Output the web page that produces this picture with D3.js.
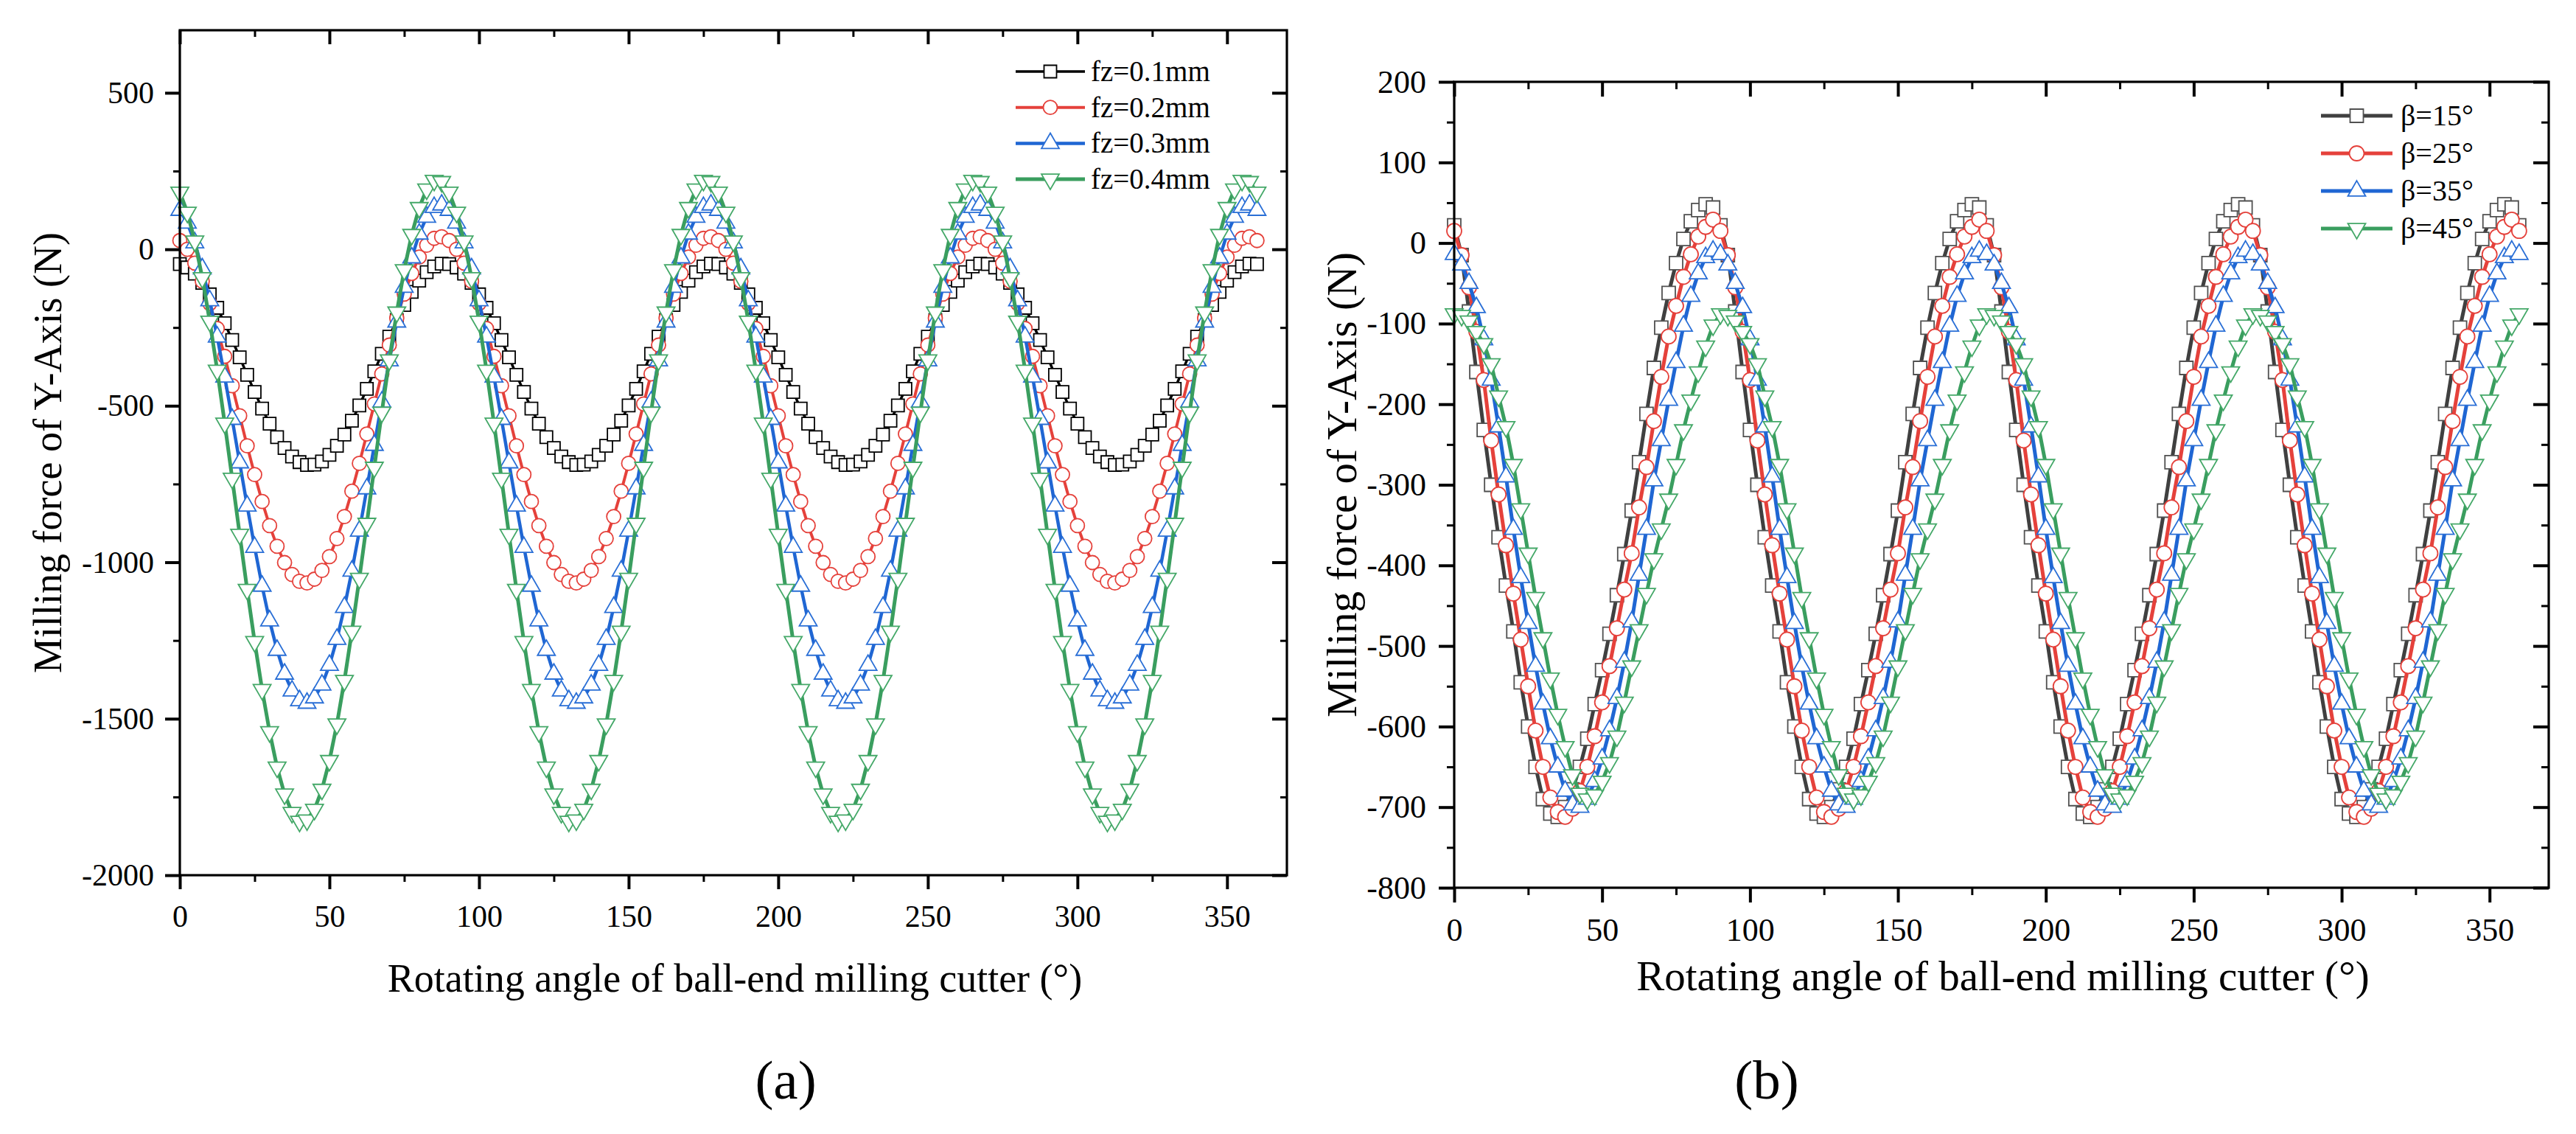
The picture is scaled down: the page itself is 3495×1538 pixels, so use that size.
<!DOCTYPE html>
<html>
<head>
<meta charset="utf-8">
<script src="https://cdn.jsdelivr.net/npm/d3@7"></script>
<style>
body { margin: 0; background: #fff; }
text { font-family: "Liberation Serif", "Times New Roman", serif; fill: #000; }
</style>
</head>
<body>
<div id="chart"></div>
<script>
const width = 3495;
const height = 1538;

// rotating angle of the cutter (deg), one sample every 2.5 deg
const angles = [
    0,2.5,5,7.5,10,12.5,15,17.5,20,22.5,25,27.5,30,32.5,35,37.5,40,42.5,45,47.5,50,52.5,55,57.5,60,62.5,65,67.5,70,72.5,75,77.5,80,82.5,85,87.5,
    90,92.5,95,97.5,100,102.5,105,107.5,110,112.5,115,117.5,120,122.5,125,127.5,130,132.5,135,137.5,140,142.5,145,147.5,150,152.5,155,157.5,160,162.5,165,167.5,170,172.5,175,177.5,
    180,182.5,185,187.5,190,192.5,195,197.5,200,202.5,205,207.5,210,212.5,215,217.5,220,222.5,225,227.5,230,232.5,235,237.5,240,242.5,245,247.5,250,252.5,255,257.5,260,262.5,265,267.5,
    270,272.5,275,277.5,280,282.5,285,287.5,290,292.5,295,297.5,300,302.5,305,307.5,310,312.5,315,317.5,320,322.5,325,327.5,330,332.5,335,337.5,340,342.5,345,347.5,350,352.5,355,357.5,
    360
];

// (a) feed per tooth
const fz01 = [
    -47,-58,-78,-107,-144,-187,-236,-290,-345,-401,-456,-509,-557,-600,-635,-662,-680,-689,-688,-678,-657,-628,-592,-548,-499,-446,-390,-334,-279,-226,-178,-136,-100,-73,-55,-46,
    -47,-58,-78,-107,-144,-187,-236,-290,-345,-401,-456,-509,-557,-600,-635,-662,-680,-689,-688,-678,-657,-628,-592,-548,-499,-446,-390,-334,-279,-226,-178,-136,-100,-73,-55,-46,
    -47,-58,-78,-107,-144,-187,-236,-290,-345,-401,-456,-509,-557,-600,-635,-662,-680,-689,-688,-678,-657,-628,-592,-548,-499,-446,-390,-334,-279,-226,-178,-136,-100,-73,-55,-46,
    -47,-58,-78,-107,-144,-187,-236,-290,-345,-401,-456,-509,-557,-600,-635,-662,-680,-689,-688,-678,-657,-628,-592,-548,-499,-446,-390,-334,-279,-226,-178,-136,-100,-73,-55,-46,
    -47
];
const fz02 = [
    28,0,-44,-102,-173,-253,-342,-436,-532,-628,-720,-806,-883,-949,-1001,-1039,-1061,-1066,-1054,-1026,-982,-924,-854,-773,-684,-590,-494,-398,-306,-220,-143,-77,-25,13,35,40,
    28,0,-44,-102,-173,-253,-342,-436,-532,-628,-720,-806,-883,-949,-1001,-1039,-1061,-1066,-1054,-1026,-982,-924,-854,-773,-684,-590,-494,-398,-306,-220,-143,-77,-25,13,35,40,
    28,0,-44,-102,-173,-253,-342,-436,-532,-628,-720,-806,-883,-949,-1001,-1039,-1061,-1066,-1054,-1026,-982,-924,-854,-773,-684,-590,-494,-398,-306,-220,-143,-77,-25,13,35,40,
    28,0,-44,-102,-173,-253,-342,-436,-532,-628,-720,-806,-883,-949,-1001,-1039,-1061,-1066,-1054,-1026,-982,-924,-854,-773,-684,-590,-494,-398,-306,-220,-143,-77,-25,13,35,40,
    28
];
const fz03 = [
    125,84,21,-62,-164,-280,-408,-543,-682,-820,-952,-1076,-1187,-1281,-1357,-1411,-1442,-1450,-1433,-1392,-1329,-1246,-1144,-1028,-900,-765,-626,-488,-356,-232,-121,-27,49,103,134,142,
    125,84,21,-62,-164,-280,-408,-543,-682,-820,-952,-1076,-1187,-1281,-1357,-1411,-1442,-1450,-1433,-1392,-1329,-1246,-1144,-1028,-900,-765,-626,-488,-356,-232,-121,-27,49,103,134,142,
    125,84,21,-62,-164,-280,-408,-543,-682,-820,-952,-1076,-1187,-1281,-1357,-1411,-1442,-1450,-1433,-1392,-1329,-1246,-1144,-1028,-900,-765,-626,-488,-356,-232,-121,-27,49,103,134,142,
    125,84,21,-62,-164,-280,-408,-543,-682,-820,-952,-1076,-1187,-1281,-1357,-1411,-1442,-1450,-1433,-1392,-1329,-1246,-1144,-1028,-900,-765,-626,-488,-356,-232,-121,-27,49,103,134,142,
    125
];
const fz04 = [
    182,118,26,-91,-230,-387,-556,-732,-911,-1087,-1254,-1407,-1542,-1655,-1741,-1800,-1828,-1824,-1790,-1726,-1634,-1517,-1378,-1221,-1052,-876,-697,-521,-354,-201,-66,47,133,192,220,216,
    182,118,26,-91,-230,-387,-556,-732,-911,-1087,-1254,-1407,-1542,-1655,-1741,-1800,-1828,-1824,-1790,-1726,-1634,-1517,-1378,-1221,-1052,-876,-697,-521,-354,-201,-66,47,133,192,220,216,
    182,118,26,-91,-230,-387,-556,-732,-911,-1087,-1254,-1407,-1542,-1655,-1741,-1800,-1828,-1824,-1790,-1726,-1634,-1517,-1378,-1221,-1052,-876,-697,-521,-354,-201,-66,47,133,192,220,216,
    182,118,26,-91,-230,-387,-556,-732,-911,-1087,-1254,-1407,-1542,-1655,-1741,-1800,-1828,-1824,-1790,-1726,-1634,-1517,-1378,-1221,-1052,-876,-697,-521,-354,-201,-66,47,133,192,220,216,
    182
];

// (b) helix angle
const b15 = [
    22,-15,-85,-160,-232,-300,-365,-425,-482,-545,-600,-650,-690,-708,-712,-700,-678,-650,-615,-572,-530,-485,-437,-386,-332,-272,-212,-155,-105,-62,-25,5,27,41,48,44,
    22,-15,-85,-160,-232,-300,-365,-425,-482,-545,-600,-650,-690,-708,-712,-700,-678,-650,-615,-572,-530,-485,-437,-386,-332,-272,-212,-155,-105,-62,-25,5,27,41,48,44,
    22,-15,-85,-160,-232,-300,-365,-425,-482,-545,-600,-650,-690,-708,-712,-700,-678,-650,-615,-572,-530,-485,-437,-386,-332,-272,-212,-155,-105,-62,-25,5,27,41,48,44,
    22,-15,-85,-160,-232,-300,-365,-425,-482,-545,-600,-650,-690,-708,-712,-700,-678,-650,-615,-572,-530,-485,-437,-386,-332,-272,-212,-155,-105,-62,-25,5,27,41,48,44,
    22
];
const b25 = [
    15,-15,-55,-110,-170,-245,-312,-375,-435,-492,-550,-605,-650,-688,-706,-712,-702,-680,-650,-612,-570,-525,-478,-430,-385,-328,-278,-221,-166,-116,-78,-42,-14,8,20,29,
    15,-15,-55,-110,-170,-245,-312,-375,-435,-492,-550,-605,-650,-688,-706,-712,-702,-680,-650,-612,-570,-525,-478,-430,-385,-328,-278,-221,-166,-116,-78,-42,-14,8,20,29,
    15,-15,-55,-110,-170,-245,-312,-375,-435,-492,-550,-605,-650,-688,-706,-712,-702,-680,-650,-612,-570,-525,-478,-430,-385,-328,-278,-221,-166,-116,-78,-42,-14,8,20,29,
    15,-15,-55,-110,-170,-245,-312,-375,-435,-492,-550,-605,-650,-688,-706,-712,-702,-680,-650,-612,-570,-525,-478,-430,-385,-328,-278,-221,-166,-116,-78,-42,-14,8,20,29,
    15
];
const b35 = [
    -14,-27,-50,-80,-120,-170,-228,-290,-355,-415,-472,-525,-572,-615,-650,-680,-697,-700,-690,-668,-640,-605,-565,-520,-470,-412,-355,-295,-245,-195,-148,-103,-66,-38,-18,-10,
    -14,-27,-50,-80,-120,-170,-228,-290,-355,-415,-472,-525,-572,-615,-650,-680,-697,-700,-690,-668,-640,-605,-565,-520,-470,-412,-355,-295,-245,-195,-148,-103,-66,-38,-18,-10,
    -14,-27,-50,-80,-120,-170,-228,-290,-355,-415,-472,-525,-572,-615,-650,-680,-697,-700,-690,-668,-640,-605,-565,-520,-470,-412,-355,-295,-245,-195,-148,-103,-66,-38,-18,-10,
    -14,-27,-50,-80,-120,-170,-228,-290,-355,-415,-472,-525,-572,-615,-650,-680,-697,-700,-690,-668,-640,-605,-565,-520,-470,-412,-355,-295,-245,-195,-148,-103,-66,-38,-18,-10,
    -14
];
const b45 = [
    -88,-90,-97,-110,-125,-150,-190,-228,-275,-330,-385,-440,-490,-540,-585,-625,-660,-683,-690,-685,-668,-645,-612,-570,-525,-480,-435,-392,-355,-318,-275,-232,-195,-160,-128,-102,
    -88,-90,-97,-110,-125,-150,-190,-228,-275,-330,-385,-440,-490,-540,-585,-625,-660,-683,-690,-685,-668,-645,-612,-570,-525,-480,-435,-392,-355,-318,-275,-232,-195,-160,-128,-102,
    -88,-90,-97,-110,-125,-150,-190,-228,-275,-330,-385,-440,-490,-540,-585,-625,-660,-683,-690,-685,-668,-645,-612,-570,-525,-480,-435,-392,-355,-318,-275,-232,-195,-160,-128,-102,
    -88,-90,-97,-110,-125,-150,-190,-228,-275,-330,-385,-440,-490,-540,-585,-625,-660,-683,-690,-685,-668,-645,-612,-570,-525,-480,-435,-392,-355,-318,-275,-232,-195,-160,-128,-102,
    -88
];

const fzLabels = ["fz=0.1mm", "fz=0.2mm", "fz=0.3mm", "fz=0.4mm"];
const betaLabels = ["β=15°", "β=25°", "β=35°", "β=45°"];

const xTicks = [0, 50, 100, 150, 200, 250, 300, 350];
const xMinor = [25, 75, 125, 175, 225, 275, 325];
const yTicksA = [-2000, -1500, -1000, -500, 0, 500];
const yMinorA = [-1750, -1250, -750, -250, 250];
const yTicksB = [-800, -700, -600, -500, -400, -300, -200, -100, 0, 100, 200];
const yMinorB = [-750, -650, -550, -450, -350, -250, -150, -50, 50, 150];

const xTitle = "Rotating angle of ball-end milling cutter (°)";
const yTitle = "Milling force of Y-Axis (N)";

const serif = "'Liberation Serif', 'Times New Roman', serif";

const panels = [
    {
        left: 244, right: 1746, top: 41, bottom: 1187,
        yDomain: [-2000, 700], yTicks: yTicksA, yMinor: yMinorA,
        tickFont: 42, xPad: 21, yPad: 15, tickLen: 20, minorLen: 9,
        titleFont: 54, xTitleY: 1345, yTitleX: 83,
        sizes: { square: 17, circle: 19, triangle: 24 },
        series: [
            { values: fz01, label: fzLabels[0], color: "#000000", mark: "#000000", shape: "square", lw: 3.5 },
            { values: fz02, label: fzLabels[1], color: "#e5413b", mark: "#e5413b", shape: "circle", lw: 4 },
            { values: fz03, label: fzLabels[2], color: "#1f66d3", mark: "#2a6fd6", shape: "up", lw: 4.5 },
            { values: fz04, label: fzLabels[3], color: "#3a9e5f", mark: "#44a868", shape: "down", lw: 5 }
        ],
        legend: { x1: 1378, x2: 1472, y0: 97, dy: 48.7, textX: 1480, font: 39 },
        tag: "(a)", tagX: 1066
    },
    {
        left: 1973, right: 3458, top: 111, bottom: 1204,
        yDomain: [-800, 200], yTicks: yTicksB, yMinor: yMinorB,
        tickFont: 44, xPad: 21, yPad: 17, tickLen: 21, minorLen: 10,
        titleFont: 57, xTitleY: 1343, yTitleX: 1840,
        sizes: { square: 18, circle: 20, triangle: 24 },
        series: [
            { values: b15, label: betaLabels[0], color: "#404040", mark: "#505050", shape: "square", lw: 5 },
            { values: b25, label: betaLabels[1], color: "#e5413b", mark: "#e5413b", shape: "circle", lw: 5 },
            { values: b35, label: betaLabels[2], color: "#1f66d3", mark: "#2a6fd6", shape: "up", lw: 5 },
            { values: b45, label: betaLabels[3], color: "#3a9e5f", mark: "#44a868", shape: "down", lw: 5 }
        ],
        legend: { x1: 3149, x2: 3246, y0: 157, dy: 51, textX: 3257, font: 40 },
        tag: "(b)", tagX: 2397
    }
];

const svg = d3.select("#chart")
    .append("svg")
    .attr("width", width)
    .attr("height", height);

svg.append("rect")
    .attr("width", width)
    .attr("height", height)
    .attr("fill", "#fff");

function markerPath(shape, sizes) {
    if (shape === "square") return d3.symbol(d3.symbolSquare, sizes.square * sizes.square)();
    if (shape === "circle") return d3.symbol(d3.symbolCircle, Math.PI * sizes.circle * sizes.circle / 4)();
    return d3.symbol(d3.symbolTriangle, Math.sqrt(3) / 4 * sizes.triangle * sizes.triangle)();
}

function styleAxis(g, p, w) {
    g.attr("font-family", null).attr("font-size", null);
    g.select(".domain").remove();
    g.selectAll(".tick line").attr("stroke", "#000").attr("stroke-width", w);
    g.selectAll(".tick text")
        .style("font-family", serif)
        .style("font-size", p.tickFont + "px")
        .attr("fill", "#000");
}

panels.forEach(p => {
    const x = d3.scaleLinear().domain([0, 370]).range([p.left, p.right]);
    const y = d3.scaleLinear().domain(p.yDomain).range([p.bottom, p.top]);
    const fmt = d => String(d);

    const g = svg.append("g");

    // series: line first, then hollow markers on top
    const line = d3.line()
        .x((d, i) => x(angles[i]))
        .y(d => y(d));

    p.series.forEach(s => {
        g.append("path")
            .datum(s.values)
            .attr("fill", "none")
            .attr("stroke", s.color)
            .attr("stroke-width", s.lw)
            .attr("stroke-linejoin", "round")
            .attr("d", line);

        const sym = markerPath(s.shape, p.sizes);
        g.append("g")
            .selectAll("path")
            .data(s.values)
            .enter()
            .append("path")
            .attr("d", sym)
            .attr("transform", (d, i) => `translate(${x(angles[i])},${y(d)})` + (s.shape === "down" ? " rotate(180)" : ""))
            .attr("fill", "#fff")
            .attr("stroke", s.mark)
            .attr("stroke-width", 1.8);
    });

    // axes
    g.append("g")
        .attr("transform", `translate(0,${p.bottom})`)
        .call(d3.axisBottom(x).tickValues(xTicks).tickFormat(fmt).tickSize(p.tickLen - 1).tickPadding(p.xPad))
        .call(a => styleAxis(a, p, 4));
    g.append("g")
        .attr("transform", `translate(0,${p.bottom})`)
        .call(d3.axisBottom(x).tickValues(xMinor).tickFormat("").tickSize(p.minorLen))
        .call(a => styleAxis(a, p, 3));
    g.append("g")
        .attr("transform", `translate(0,${p.top})`)
        .call(d3.axisTop(x).tickValues(xTicks).tickFormat("").tickSize(-(p.tickLen - 1)))
        .call(a => styleAxis(a, p, 4));
    g.append("g")
        .attr("transform", `translate(0,${p.top})`)
        .call(d3.axisTop(x).tickValues(xMinor).tickFormat("").tickSize(-p.minorLen))
        .call(a => styleAxis(a, p, 3));

    g.append("g")
        .attr("transform", `translate(${p.left},0)`)
        .call(d3.axisLeft(y).tickValues(p.yTicks).tickFormat(fmt).tickSize(p.tickLen).tickPadding(p.yPad))
        .call(a => styleAxis(a, p, 4));
    g.append("g")
        .attr("transform", `translate(${p.left},0)`)
        .call(d3.axisLeft(y).tickValues(p.yMinor).tickFormat("").tickSize(p.minorLen))
        .call(a => styleAxis(a, p, 3));
    g.append("g")
        .attr("transform", `translate(${p.right},0)`)
        .call(d3.axisRight(y).tickValues(p.yTicks).tickFormat("").tickSize(-p.tickLen))
        .call(a => styleAxis(a, p, 4));
    g.append("g")
        .attr("transform", `translate(${p.right},0)`)
        .call(d3.axisRight(y).tickValues(p.yMinor).tickFormat("").tickSize(-p.minorLen))
        .call(a => styleAxis(a, p, 3));

    // frame
    g.append("rect")
        .attr("x", p.left)
        .attr("y", p.top)
        .attr("width", p.right - p.left)
        .attr("height", p.bottom - p.top)
        .attr("fill", "none")
        .attr("stroke", "#000")
        .attr("stroke-width", 3.2);

    // titles
    g.append("text")
        .attr("x", (p.left + p.right) / 2 + 2)
        .attr("y", p.xTitleY)
        .attr("text-anchor", "middle")
        .attr("font-size", p.titleFont)
        .text(xTitle);
    g.append("text")
        .attr("transform", `translate(${p.yTitleX},${(p.top + p.bottom) / 2}) rotate(-90)`)
        .attr("text-anchor", "middle")
        .attr("font-size", p.titleFont)
        .text(yTitle);

    // legend
    const lg = g.append("g");
    p.series.forEach((s, i) => {
        const ly = p.legend.y0 + i * p.legend.dy;
        lg.append("line")
            .attr("x1", p.legend.x1)
            .attr("x2", p.legend.x2)
            .attr("y1", ly)
            .attr("y2", ly)
            .attr("stroke", s.color)
            .attr("stroke-width", s.lw);
        lg.append("path")
            .attr("d", markerPath(s.shape, p.sizes))
            .attr("transform", `translate(${(p.legend.x1 + p.legend.x2) / 2},${ly})` + (s.shape === "down" ? " rotate(180)" : ""))
            .attr("fill", "#fff")
            .attr("stroke", s.mark)
            .attr("stroke-width", 1.8);
        lg.append("text")
            .attr("x", p.legend.textX)
            .attr("y", ly)
            .attr("dy", "0.33em")
            .attr("font-size", p.legend.font)
            .text(s.label);
    });

    // panel tag
    svg.append("text")
        .attr("x", p.tagX)
        .attr("y", 1490)
        .attr("text-anchor", "middle")
        .attr("font-size", 75)
        .text(p.tag);
});
</script>
</body>
</html>
